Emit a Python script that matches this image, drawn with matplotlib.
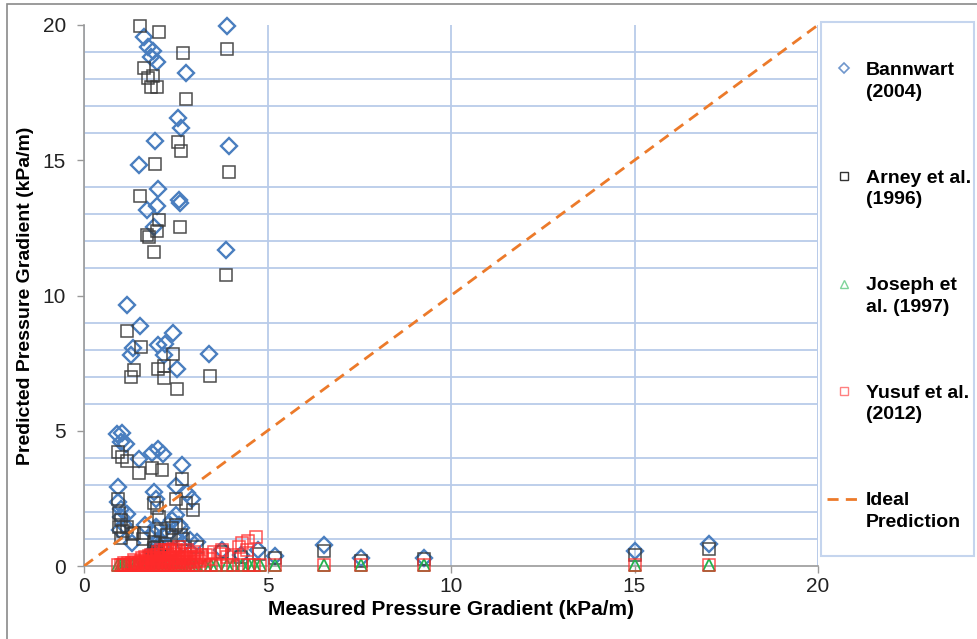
import matplotlib
matplotlib.use("Agg")
import matplotlib.pyplot as plt
from matplotlib.lines import Line2D
from matplotlib.patches import Rectangle
import numpy as np

plt.rcParams['font.family'] = ['Liberation Sans', 'DejaVu Sans']

# ---------------- data ----------------
bannwart_x = [3.90, 1.64, 1.75, 1.88, 1.83, 1.99, 2.78, 2.56, 2.65, 1.94, 3.96, 1.50,
              2.02, 2.59, 1.99, 1.72, 2.62, 1.91, 3.87, 1.17, 1.53, 2.43, 2.02, 2.21,
              1.34, 1.28, 2.18, 3.41, 2.54,
              0.90, 1.04, 1.01, 1.15, 1.50, 1.86, 2.02, 2.16, 2.67, 0.93, 0.93, 1.17,
              0.98, 1.31, 1.91, 1.96, 2.51, 2.81, 2.95, 2.51, 1.96, 2.29, 2.65, 1.66,
              3.08, 3.77, 4.28, 4.75, 5.21, 6.55, 7.56, 9.27, 15.0, 17.03,
              1.92, 1.95, 2.00, 2.05, 1.85, 2.40, 2.60, 2.30, 1.10, 1.00, 1.00, 2.88,
              1.88, 2.10, 1.98, 2.45, 2.70]
bannwart_y = [19.96, 19.56, 19.19, 19.04, 18.82, 18.63, 18.23, 16.56, 16.19, 15.71, 15.53, 14.82,
              13.94, 13.53, 13.31, 13.16, 13.42, 12.53, 11.68, 9.65, 8.87, 8.61, 8.17, 8.21,
              8.06, 7.80, 7.80, 7.84, 7.28,
              4.88, 4.92, 4.58, 4.51, 3.96, 4.18, 4.33, 4.14, 3.73, 2.92, 2.37, 1.92,
              1.33, 0.85, 2.74, 2.48, 2.96, 2.70, 2.48, 1.89, 1.44, 1.52, 1.40, 1.52,
              0.89, 0.59, 0.41, 0.59, 0.37, 0.78, 0.30, 0.30, 0.55, 0.81,
              1.20, 0.80, 0.60, 1.00, 0.50, 1.70, 1.50, 1.20, 1.50, 2.10, 1.80, 0.95,
              0.35, 0.70, 1.40, 1.10, 0.80]

arney_x = [1.53, 2.05, 2.70, 3.90, 1.64, 1.88, 1.75, 1.83, 1.99, 2.78, 2.56, 2.65, 1.94,
           3.96, 1.53, 2.05, 2.62, 1.99, 1.72, 1.76, 1.91, 3.87, 1.17, 1.56, 2.43, 3.44,
           1.36, 1.28, 2.02, 2.18, 2.18, 2.54,
           0.93, 1.04, 1.17, 1.50, 1.86, 2.13, 2.67, 0.93, 0.96, 0.96, 1.01, 1.91, 1.99,
           2.05, 2.51, 2.78, 2.97, 2.51, 2.26, 2.65, 1.64, 1.36, 1.17, 1.91,
           3.08, 3.77, 4.28, 4.77, 5.21, 6.55, 7.56, 9.27, 15.0, 17.03,
           1.90, 2.00, 2.10, 1.95, 2.40, 2.70, 2.20, 1.00, 1.05, 1.30, 1.60,
           1.85, 2.05, 2.35]
arney_y = [19.96, 19.74, 18.97, 19.11, 18.41, 18.11, 18.04, 17.71, 17.71, 17.26, 15.67, 15.34, 14.86,
           14.57, 13.68, 12.79, 12.53, 12.38, 12.24, 12.17, 11.61, 10.76, 8.69, 8.10, 7.84, 7.02,
           7.25, 6.99, 7.28, 7.39, 6.95, 6.54,
           4.21, 4.03, 3.88, 3.44, 3.62, 3.55, 3.22, 2.48, 1.96, 1.44, 1.04, 2.33, 2.14,
           1.81, 2.48, 2.33, 2.07, 1.52, 1.15, 1.15, 1.22, 1.22, 1.44, 0.67,
           0.70, 0.52, 0.33, 0.44, 0.30, 0.55, 0.18, 0.26, 0.41, 0.63,
           0.90, 0.70, 1.30, 0.50, 1.40, 1.00, 0.80, 1.70, 1.30, 1.20, 1.00,
           0.30, 0.40, 0.60]

joseph_x = [0.92, 1.00, 1.05, 1.12, 1.20, 1.30, 1.38, 1.45, 1.55, 1.62, 1.70, 1.78,
            1.85, 1.92, 2.00, 2.08, 2.15, 2.22, 2.30, 2.38, 2.45, 2.52, 2.60, 2.68,
            2.75, 2.85, 2.95, 3.05, 3.30, 3.45, 3.60, 3.90, 4.05, 4.30, 4.50, 4.62,
            4.80, 5.21, 6.55, 7.56, 9.27, 15.0, 17.03]
joseph_y = [0.02, 0.02, 0.02, 0.02, 0.02, 0.02, 0.02, 0.02, 0.02, 0.02, 0.02, 0.02,
            0.02, 0.02, 0.02, 0.02, 0.02, 0.02, 0.02, 0.02, 0.02, 0.02, 0.02, 0.02,
            0.02, 0.02, 0.02, 0.02, 0.02, 0.02, 0.02, 0.02, 0.02, 0.02, 0.02, 0.02,
            0.02, 0.02, 0.02, 0.02, 0.02, 0.02, 0.02]

yusuf_x = [0.92, 1.00, 1.05, 1.12, 1.20, 1.30, 1.38, 1.45, 1.55, 1.62, 1.70, 1.78,
           1.85, 1.92, 2.00, 2.08, 2.15, 2.22, 2.30, 2.38, 2.45, 2.52, 2.60, 2.68,
           2.75, 2.85, 2.95, 3.05, 3.30, 3.45, 3.60, 3.90, 4.05, 4.30, 4.50, 4.62,
           4.80, 5.21, 6.55, 7.56, 9.27, 15.0, 17.03,
           1.30, 1.40, 1.50, 1.55, 1.60, 1.70, 1.75, 1.80, 1.85, 1.90, 1.95, 2.00,
           2.05, 2.10, 2.15, 2.20, 2.25, 2.30, 2.35, 2.40, 2.45, 2.50, 2.55, 2.60,
           2.70, 2.75, 2.80, 2.90, 3.00, 3.10, 3.20, 2.00, 2.20, 2.40, 2.60, 2.80,
           3.00, 3.22, 3.33, 3.55, 3.77, 3.90, 4.04, 4.23, 4.31, 4.47, 4.45, 4.69,
           3.06, 2.59, 2.33, 1.65, 2.10, 2.50, 3.40, 3.70,
           1.35, 1.45, 1.58, 1.68, 1.78, 1.88, 1.98, 2.08, 2.18, 2.28, 2.38, 2.48,
           2.58, 2.68, 2.78, 2.88, 2.98, 3.15, 1.72, 1.92, 2.12, 2.32, 2.52, 2.72,
           2.92, 1.82, 2.02, 2.22, 2.42, 2.62, 1.10, 1.20]
yusuf_y = [0.02, 0.02, 0.02, 0.02, 0.02, 0.02, 0.02, 0.02, 0.02, 0.02, 0.02, 0.02,
           0.02, 0.02, 0.02, 0.02, 0.02, 0.02, 0.02, 0.02, 0.02, 0.02, 0.02, 0.02,
           0.02, 0.02, 0.02, 0.02, 0.02, 0.02, 0.02, 0.02, 0.02, 0.02, 0.02, 0.02,
           0.02, 0.02, 0.02, 0.02, 0.02, 0.02, 0.02,
           0.10, 0.15, 0.10, 0.20, 0.15, 0.25, 0.10, 0.30, 0.20, 0.35, 0.15, 0.40,
           0.25, 0.45, 0.30, 0.50, 0.20, 0.40, 0.55, 0.30, 0.45, 0.60, 0.35, 0.50,
           0.25, 0.45, 0.60, 0.35, 0.50, 0.30, 0.40, 0.10, 0.15, 0.10, 0.15, 0.10,
           0.15, 0.33, 0.41, 0.52, 0.59, 0.33, 0.41, 0.70, 0.85, 0.92, 0.59, 1.07,
           0.33, 0.70, 0.55, 0.35, 0.58, 0.28, 0.25, 0.45,
           0.22, 0.08, 0.28, 0.12, 0.38, 0.10, 0.28, 0.18, 0.40, 0.12, 0.22, 0.35,
           0.20, 0.40, 0.30, 0.18, 0.25, 0.20, 0.20, 0.25, 0.22, 0.30, 0.15, 0.35,
           0.45, 0.42, 0.52, 0.60, 0.62, 0.28, 0.10, 0.12]

ideal_x = [0, 20]
ideal_y = [0, 20]

series_labels = ["Bannwart\n(2004)", "Arney et al.\n(1996)", "Joseph et\nal. (1997)",
                 "Yusuf et al.\n(2012)", "Ideal\nPrediction"]
xticks = [0, 5, 10, 15, 20]
yticks = [0, 5, 10, 15, 20]

# ---------------- styling ----------------
W, H = 977, 639
fig = plt.figure(figsize=(W / 100, H / 100), dpi=100)
ax = fig.add_axes([84 / W, 1 - 566 / H, (818 - 84) / W, (566 - 25) / H])

grid_c = '#b9cbe9'
c_blue = '#4a7ebf'
c_black = '#3a3a3a'
c_green = '#22b24c'
c_red = '#ff2a2a'
c_orange = '#ec7a2a'

ax.set_xlim(0, 20)
ax.set_ylim(0, 20)
ax.set_xticks(xticks)
ax.set_yticks(yticks)
ax.set_yticks(np.arange(0, 21, 1), minor=True)
ax.tick_params(axis='y', which='minor', length=0)
ax.tick_params(axis='both', which='major', direction='out', length=5, width=1,
               color='#999999', labelsize=15, labelcolor='#222222')
ax.tick_params(axis='y', which='major', pad=8)
ax.tick_params(axis='x', which='major', pad=3)
ax.grid(True, which='major', axis='x', color=grid_c, lw=1.3)
ax.grid(True, which='minor', axis='y', color=grid_c, lw=1.3)
ax.set_axisbelow(True)
for s in ['top', 'right']:
    ax.spines[s].set_visible(False)
for s in ['left', 'bottom']:
    ax.spines[s].set_color('#9a9a9a')
    ax.spines[s].set_linewidth(1.2)
ax.axvline(20, color=grid_c, lw=1.3, zorder=0.5)

ms = 8
ax.plot(bannwart_x, bannwart_y, ls='none', marker='D', ms=ms, mfc='none', mec=c_blue,
        mew=1.7, clip_on=False, zorder=3)
ax.plot(arney_x, arney_y, ls='none', marker='s', ms=ms, mfc='none', mec=c_black,
        mew=1.1, alpha=0.9, clip_on=False, zorder=3)
ax.plot(joseph_x, joseph_y, ls='none', marker='^', ms=ms, mfc='none', mec=c_green,
        mew=1.3, clip_on=False, zorder=4)
ax.plot(yusuf_x, yusuf_y, ls='none', marker='s', ms=ms, mfc='none', mec=c_red,
        mew=1.1, alpha=0.8, clip_on=False, zorder=5)
ax.plot(ideal_x, ideal_y, ls=(0, (4, 2.6)), color=c_orange, lw=2, zorder=6)

ax.set_xlabel("Measured Pressure Gradient (kPa/m)", fontsize=15, fontweight='bold',
              labelpad=3)
ax.set_ylabel("Predicted Pressure Gradient (kPa/m)", fontsize=14, fontweight='bold',
              labelpad=6)

# legend frame and figure border
fig.patches.append(Rectangle((821 / W, 1 - 556 / H), (974 - 821) / W, (556 - 22) / H,
                             transform=fig.transFigure, fill=False, ec='#c5d5ee', lw=1.5))
fig.patches.append(Rectangle((7 / W, -0.01), 1.02 - 7 / W, 1.01 - 4 / H,
                             transform=fig.transFigure, fill=False, ec='#8a8a8a', lw=1.2))

handles = [
    Line2D([], [], ls='none', marker='D', ms=5, mfc='none', mec='#6f97cc', mew=1.2),
    Line2D([], [], ls='none', marker='s', ms=6, mfc='none', mec='#333333', mew=1.0),
    Line2D([], [], ls='none', marker='^', ms=6, mfc='none', mec='#7fd49a', mew=1.0),
    Line2D([], [], ls='none', marker='s', ms=6, mfc='none', mec='#ff8080', mew=1.0),
    Line2D([], [], ls=(0, (4, 2.6)), color=c_orange, lw=2),
]
leg = fig.legend(handles, series_labels, loc='upper left',
                 bbox_to_anchor=(827 / W, 1 - 62 / H), frameon=False,
                 prop={'weight': 'bold', 'size': 14}, handlelength=1.7,
                 handletextpad=0.3, labelspacing=3.55, borderpad=0, borderaxespad=0)
for t in leg.get_texts():
    t.set_linespacing(1.35)
for h in leg.legend_handles:
    y = np.asarray(h.get_ydata(), dtype=float)
    h.set_ydata(y + 9)

fig.savefig("out.png", dpi=100)
